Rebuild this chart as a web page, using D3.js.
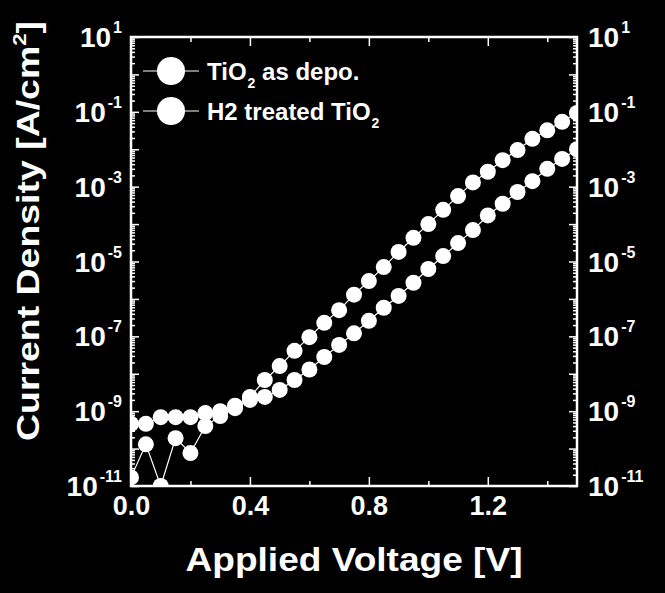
<!DOCTYPE html>
<html><head><meta charset="utf-8">
<script src="https://cdn.jsdelivr.net/npm/d3@7"></script>
<style>body{margin:0;background:#000;} svg{display:block;}</style>
</head><body>
<svg id="c" width="665" height="593"></svg>
<script>
// ---- data ----
const voltage = [0.00,0.05,0.10,0.15,0.20,0.25,0.30,0.35,0.40,0.45,0.50,0.55,0.60,0.65,0.70,0.75,
                 0.80,0.85,0.90,0.95,1.00,1.05,1.10,1.15,1.20,1.25,1.30,1.35,1.40,1.45,1.50];
const depoJ = [4.6e-10,4.6e-10,6.9e-10,6.9e-10,6.9e-10,8.9e-10,1.0e-9,1.4e-9,2.4e-9,6.8e-9,1.6e-8,
               4.1e-8,9.5e-8,2.3e-7,5.0e-7,1.3e-6,3.0e-6,7.1e-6,1.8e-5,4.3e-5,1.0e-4,2.4e-4,5.6e-4,
               1.3e-3,2.5e-3,5.1e-3,9.5e-3,1.9e-2,3.2e-2,5.4e-2,9.3e-2];
const h2J = [1.7e-11,1.3e-10,1.0e-11,1.9e-10,7.6e-11,4.0e-10,7.4e-10,1.2e-9,2.0e-9,2.4e-9,3.7e-9,
             6.8e-9,1.3e-8,2.8e-8,5.9e-8,1.2e-7,2.6e-7,5.8e-7,1.2e-6,2.7e-6,6.3e-6,1.4e-5,3.1e-5,
             6.9e-5,1.7e-4,3.5e-4,7.2e-4,1.4e-3,3.0e-3,5.5e-3,1.0e-2];
const xLabelTicks = [0, 0.4, 0.8, 1.2];
const xMinorTicks = [0.2, 0.6, 1.0, 1.4];
const yLabelExponents = [1, -1, -3, -5, -7, -9, -11];
const legendLabels = [["TiO", "2", " as depo."], ["H2 treated TiO", "2", ""]];
const xTitle = "Applied Voltage [V]";
const yTitleParts = ["Current Density [A/cm", "2", "]"];

// ---- layout ----
const W = 665, H = 593, m = {l: 131, r: 577, t: 37, b: 486};
const font = "'Liberation Sans', Arial, Helvetica, sans-serif";
const svg = d3.select('#c');
svg.append('rect').attr('width', W).attr('height', H).attr('fill', '#000');
const x = d3.scaleLinear().domain([0, 1.5]).range([m.l, m.r]);
const y = d3.scaleLog().domain([1e-11, 1e1]).range([m.b, m.t]);

svg.append('defs').append('clipPath').attr('id', 'clip')
  .append('rect').attr('x', m.l).attr('y', m.t).attr('width', m.r - m.l).attr('height', m.b - m.t);

// ---- data marks ----
const plot = svg.append('g').attr('clip-path', 'url(#clip)');
[depoJ, h2J].forEach(s => {
  const pts = voltage.map((v, i) => [v, s[i]]);
  plot.append('path').datum(pts)
    .attr('d', d3.line().x(d => x(d[0])).y(d => y(d[1])))
    .attr('fill', 'none').attr('stroke', '#fff').attr('stroke-width', 1.2);
  plot.selectAll(null).data(pts).enter().append('circle')
    .attr('cx', d => x(d[0])).attr('cy', d => y(d[1])).attr('r', 8).attr('fill', '#fff');
});

// ---- axes ----
const decades = d3.range(-11, 2).map(e => Math.pow(10, e));
const minors = [];
d3.range(-11, 1).forEach(e => { for (let k = 2; k <= 9; k++) minors.push(k * Math.pow(10, e)); });

function styleAxis(g) {
  g.select('.domain').remove();
  g.selectAll('line').attr('stroke', '#fff').attr('stroke-width', 2);
}
const bx = svg.append('g').attr('transform', `translate(0,${m.b})`)
  .call(d3.axisBottom(x).tickValues(xLabelTicks).tickSize(-9).tickPadding(9.5).tickFormat(d3.format('.1f')));
styleAxis(bx);
bx.selectAll('text').attr('fill', '#fff').attr('font-family', font).attr('font-weight', 'bold').attr('font-size', 27);
styleAxis(svg.append('g').attr('transform', `translate(0,${m.b})`)
  .call(d3.axisBottom(x).tickValues(xMinorTicks).tickSize(-5).tickFormat('')));
styleAxis(svg.append('g').attr('transform', `translate(0,${m.t})`)
  .call(d3.axisTop(x).tickValues(xLabelTicks).tickSize(-9).tickFormat('')));
styleAxis(svg.append('g').attr('transform', `translate(0,${m.t})`)
  .call(d3.axisTop(x).tickValues(xMinorTicks).tickSize(-5).tickFormat('')));

styleAxis(svg.append('g').attr('transform', `translate(${m.l},0)`)
  .call(d3.axisLeft(y).tickValues(decades).tickSize(-8).tickFormat('')));
styleAxis(svg.append('g').attr('transform', `translate(${m.l},0)`)
  .call(d3.axisLeft(y).tickValues(minors).tickSize(-4).tickFormat('')));
styleAxis(svg.append('g').attr('transform', `translate(${m.r},0)`)
  .call(d3.axisRight(y).tickValues(decades).tickSize(-8).tickFormat('')));
styleAxis(svg.append('g').attr('transform', `translate(${m.r},0)`)
  .call(d3.axisRight(y).tickValues(minors).tickSize(-4).tickFormat('')));
svg.selectAll('.tick line').attr('stroke-width', 1.5);

// frame
svg.append('rect').attr('x', m.l).attr('y', m.t).attr('width', m.r - m.l).attr('height', m.b - m.t)
  .attr('fill', 'none').attr('stroke', '#fff').attr('stroke-width', 2.5);

// y tick labels (both sides)
[[m.l - 9, 'end'], [m.r + 11, 'start']].forEach(([xx, anchor]) => {
  const t = svg.append('g').selectAll('text').data(yLabelExponents).enter().append('text')
    .attr('x', xx).attr('y', d => y(Math.pow(10, d)) + 10)
    .attr('text-anchor', anchor).attr('fill', '#fff')
    .attr('font-family', font).attr('font-weight', 'bold').attr('font-size', 28);
  t.append('tspan').text('10');
  t.append('tspan').attr('dy', -14).attr('dx', 2).attr('font-size', 16).text(d => String(d));
});

// axis titles
svg.append('text').attr('x', (m.l + m.r) / 2).attr('y', 571).attr('text-anchor', 'middle')
  .attr('fill', '#fff').attr('font-family', font).attr('font-weight', 'bold').attr('font-size', 34)
  .attr('textLength', 337).attr('lengthAdjust', 'spacingAndGlyphs').text(xTitle);

const yt = svg.append('text').attr('transform', 'translate(39,231) rotate(-90)').attr('text-anchor', 'middle')
  .attr('fill', '#fff').attr('font-family', font).attr('font-weight', 'bold').attr('font-size', 32)
  .attr('textLength', 420).attr('lengthAdjust', 'spacingAndGlyphs');
yt.append('tspan').text(yTitleParts[0]);
yt.append('tspan').attr('dy', -13).attr('font-size', 19).text(yTitleParts[1]);
yt.append('tspan').attr('dy', 13).text(yTitleParts[2]);

// legend
const lg = svg.append('g');
legendLabels.forEach((parts, i) => {
  const cy = 71 + i * 40;
  lg.append('line').attr('x1', 143).attr('x2', 199).attr('y1', cy).attr('y2', cy)
    .attr('stroke', '#fff').attr('stroke-width', 1.2);
  lg.append('circle').attr('cx', 171).attr('cy', cy).attr('r', 14).attr('fill', '#fff');
  const t = lg.append('text').attr('x', 207).attr('y', cy + 9).attr('fill', '#fff')
    .attr('font-family', font).attr('font-weight', 'bold').attr('font-size', 24);
  t.append('tspan').text(parts[0]);
  t.append('tspan').attr('dy', 8).attr('dx', 1).attr('font-size', 14).text(parts[1]);
  if (parts[2]) t.append('tspan').attr('dy', -8).text(parts[2]);
});
</script>
</body></html>
